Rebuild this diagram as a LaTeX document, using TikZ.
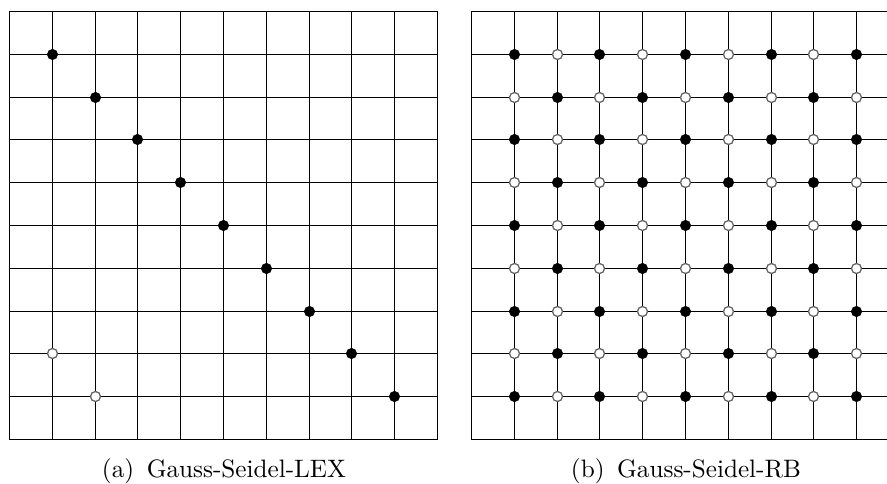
\documentclass[tikz,border=0pt]{standalone}
\usetikzlibrary{calc}
\begin{document}
\begin{tikzpicture}[x=1pt,y=-1pt,
  gridline/.style={line width=1.1pt,black},
  bdot/.style={circle,fill=black,draw=black,line width=0.4pt,minimum size=10.5pt,inner sep=0pt},
  wdot/.style={circle,fill=white,draw=black!60,line width=1.3pt,minimum size=10pt,inner sep=0pt},
  captext/.style={font=\fontsize{10}{12}\selectfont,scale=2.52,anchor=base}]
\useasboundingbox (0,0) rectangle (887,484);
% left grid
\begin{scope}[shift={(9.5,11.5)}]
  \foreach \i in {1,...,9} {
    \pgfmathsetmacro{\p}{round(\i*42.8)}
    \draw[gridline] (\p,0) -- (\p,428);
    \draw[gridline] (0,\p) -- (428,\p);
  }
  \draw[gridline] (0,0) rectangle (428,428);
  \foreach \i in {1,...,9} {
    \pgfmathsetmacro{\p}{round(\i*42.8)}
    \node[bdot] (L\i) at (\p,\p) {};
  }
  \node[wdot] (W1) at ({round(1*42.8)},{round(8*42.8)}) {};
  \node[wdot] (W2) at ({round(2*42.8)},{round(9*42.8)}) {};
\end{scope}
% right grid (clipped at page edge)
\begin{scope}
  \clip (0,0) rectangle (887,484);
  \begin{scope}[shift={(471.5,11.5)}]
    \foreach \i in {1,...,9} {
      \pgfmathsetmacro{\p}{round(\i*42.8)}
      \draw[gridline] (\p,0) -- (\p,428);
      \draw[gridline] (0,\p) -- (428,\p);
    }
    \draw[gridline] (0,0) rectangle (428,428);
    \foreach \i in {1,...,9} {
      \foreach \j in {1,...,9} {
        \pgfmathtruncatemacro{\s}{mod(\i+\j,2)}
        \pgfmathsetmacro{\px}{round(\j*42.8)}
        \pgfmathsetmacro{\py}{round(\i*42.8)}
        \ifnum\s=0
          \node[bdot] (R\i-\j) at (\px,\py) {};
        \else
          \node[wdot] (R\i-\j) at (\px,\py) {};
        \fi
      }
    }
  \end{scope}
\end{scope}
\node[captext] (capa) at (224,477) {(a)\hspace{0.5em}Gauss-Seidel-LEX};
\node[captext] (capb) at (686,477) {(b)\hspace{0.5em}Gauss-Seidel-RB};
\end{tikzpicture}
\end{document}
